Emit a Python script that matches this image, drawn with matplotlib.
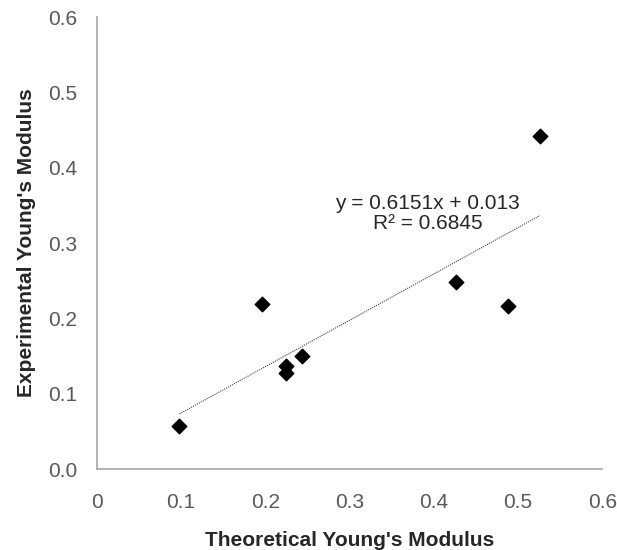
import matplotlib.pyplot as plt
import numpy as np

plt.rcParams['font.family'] = ['Liberation Sans', 'DejaVu Sans']

theoretical = [0.098, 0.196, 0.225, 0.225, 0.244, 0.427, 0.488, 0.526]
experimental = [0.057, 0.219, 0.137, 0.127, 0.150, 0.248, 0.216, 0.442]
slope, intercept = 0.6151, 0.013
x_ticks = [0, 0.1, 0.2, 0.3, 0.4, 0.5, 0.6]
x_labels = ["0", "0.1", "0.2", "0.3", "0.4", "0.5", "0.6"]
y_ticks = [0.0, 0.1, 0.2, 0.3, 0.4, 0.5, 0.6]
y_labels = ["0.0", "0.1", "0.2", "0.3", "0.4", "0.5", "0.6"]

fig = plt.figure(figsize=(6.17, 5.5), dpi=100)
ax = fig.add_axes([0.157, 0.147, 0.819, 0.822])

ax.scatter(theoretical, experimental, marker='D', s=55, color='black', zorder=3)

xs = np.array([min(theoretical), max(theoretical)])
ax.plot(xs, slope * xs + intercept, color='#404040', lw=0.8, ls=(0, (1, 1)))

ax.text(0.393, 0.339, "y = 0.6151x + 0.013\nR² = 0.6845", ha='center', va='center',
        fontsize=15, color='#262626', linespacing=1.1)

ax.set_xlim(0, 0.6)
ax.set_ylim(0, 0.6)
ax.set_xticks(x_ticks, x_labels)
ax.set_yticks(y_ticks, y_labels)
ax.tick_params(length=0, labelsize=15, labelcolor='#595959')
ax.tick_params(axis='x', pad=17)
ax.tick_params(axis='y', pad=14)

for s in ['top', 'right']:
    ax.spines[s].set_visible(False)
for s in ['left', 'bottom']:
    ax.spines[s].set_color('#A6A6A6')
    ax.spines[s].set_linewidth(1.2)

ax.set_xlabel("Theoretical Young's Modulus", fontsize=15, fontweight='bold', color='#262626', labelpad=14)
ax.set_ylabel("Experimental Young's Modulus", fontsize=15, fontweight='bold', color='#262626', labelpad=9)

fig.savefig("out.png", dpi=100)
